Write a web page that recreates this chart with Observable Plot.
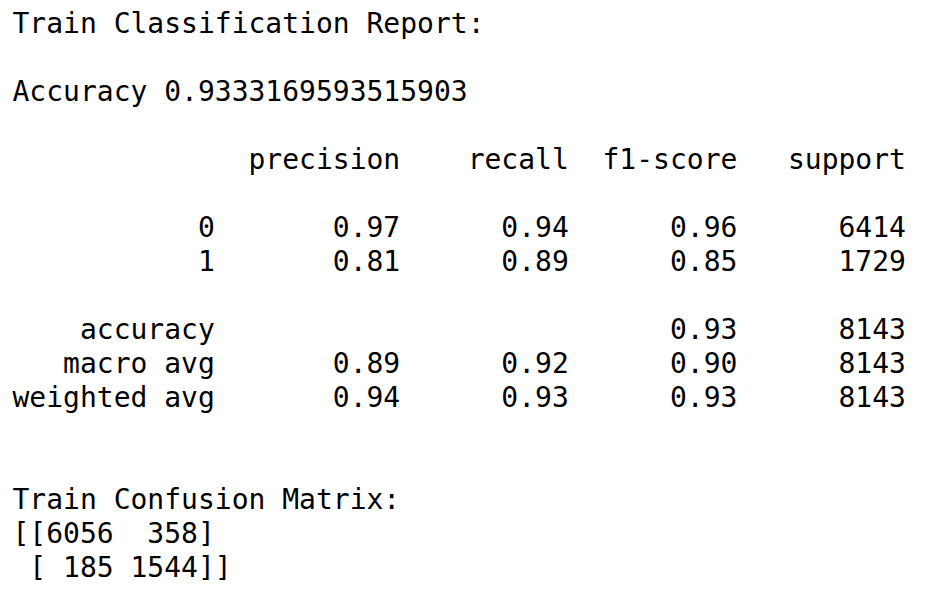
<!DOCTYPE html>
<html lang="en">
<head>
<meta charset="UTF-8">
<script src="https://cdn.jsdelivr.net/npm/d3@7"></script>
<script src="https://cdn.jsdelivr.net/npm/@observablehq/plot@0.6"></script>
<style>
  body { margin: 0; background: #fff; }
  #plot text { white-space: pre; }
</style>
</head>
<body>
<div id="plot"></div>
<script>
// report values
const accuracy = "0.9333169593515903";
const header = ["precision", "recall", "f1-score", "support"];
const classes = ["0", "1"];
const precision = ["0.97", "0.81"];
const recall = ["0.94", "0.89"];
const f1 = ["0.96", "0.85"];
const support = ["6414", "1729"];
const avgLabels = ["accuracy", "macro avg", "weighted avg"];
const avgPrecision = ["", "0.89", "0.94"];
const avgRecall = ["", "0.92", "0.93"];
const avgF1 = ["0.93", "0.90", "0.93"];
const avgSupport = ["8143", "8143", "8143"];
const matrix = [[6056, 358], [185, 1544]];

const row = (a, b, c, d, e) =>
  a.padStart(12) + b.padStart(11) + c.padStart(10) + d.padStart(10) + e.padStart(10);

const lines = [
  {i: 0, t: "Train Classification Report:"},
  {i: 2, t: "Accuracy " + accuracy},
  {i: 4, t: row("", ...header)},
  ...classes.map((c, k) => ({i: 6 + k, t: row(c, precision[k], recall[k], f1[k], support[k])})),
  ...avgLabels.map((c, k) => ({i: 9 + k, t: row(c, avgPrecision[k], avgRecall[k], avgF1[k], avgSupport[k])})),
  {i: 14, t: "Train Confusion Matrix:"},
  {i: 15, t: "[[" + String(matrix[0][0]).padStart(4) + " " + String(matrix[0][1]).padStart(4) + "]"},
  {i: 16, t: " [" + String(matrix[1][0]).padStart(4) + " " + String(matrix[1][1]).padStart(4) + "]]"}
];

const plot = Plot.plot({
  width: 938,
  height: 594,
  margin: 0,
  x: {domain: [0, 938], range: [0, 938], axis: null},
  y: {domain: [0, 16], range: [24, 24 + 34 * 16], axis: null},
  marks: [
    Plot.text(lines, {
      x: () => 12, y: "i", text: "t",
      textAnchor: "start", lineAnchor: "middle",
      fontFamily: "DejaVu Sans Mono", fontSize: 28, fill: "black"
    })
  ]
});
document.querySelector("#plot").append(plot);
</script>
</body>
</html>
